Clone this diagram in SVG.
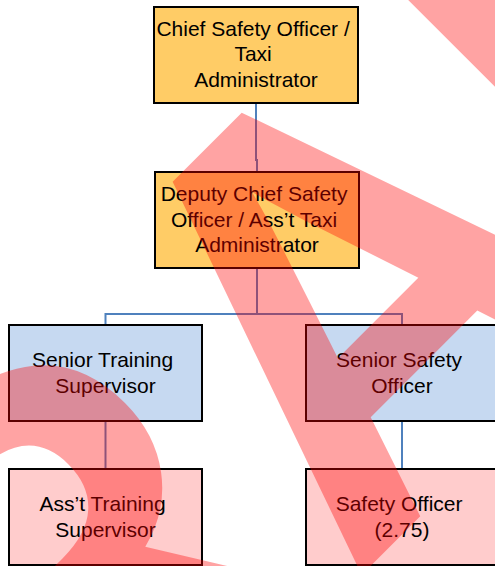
<svg xmlns="http://www.w3.org/2000/svg" width="495" height="566" viewBox="0 0 495 566">
  <style>
    .box { stroke: #000000; stroke-width: 2; }
    .exec { fill: #FFCC66; }
    .senior { fill: #C6D9F1; }
    .staff { fill: #FFCCCC; }
    .label { font-family: "Liberation Sans", Arial, sans-serif; font-size: 21px; fill: #000000; text-anchor: middle; }
    .link { fill: none; stroke: #4F81BD; stroke-width: 2; }
    .mark { font-family: "Liberation Sans", Arial, sans-serif; font-weight: bold; font-size: 575px; fill: #FF0000; fill-opacity: 0.36; }
  </style>

  <!-- reporting lines -->
  <g id="connectors">
    <path class="link" d="M256,103 V160 H257 V172"/>
    <path class="link" d="M257,268 V314"/>
    <path class="link" d="M105.5,325 V314 H402 V325"/>
    <path class="link" d="M105.5,421 V469"/>
    <path class="link" d="M402,421 V469"/>
  </g>

  <g id="chief-safety-officer">
    <rect class="box exec" x="154" y="7" width="204" height="96"/>
    <text class="label" x="256" y="35.5">
      <tspan x="256">Chief Safety Officer /</tspan>
      <tspan x="256" dy="25.5">Taxi</tspan>
      <tspan x="256" dy="25.5">Administrator</tspan>
    </text>
  </g>

  <g id="deputy-chief-safety-officer">
    <rect class="box exec" x="155" y="172" width="204" height="96"/>
    <text class="label" x="257" y="201">
      <tspan x="257">Deputy Chief Safety</tspan>
      <tspan x="257" dy="25.5">Officer / Ass’t Taxi</tspan>
      <tspan x="257" dy="25.5">Administrator</tspan>
    </text>
  </g>

  <g id="senior-training-supervisor">
    <rect class="box senior" x="9" y="325" width="193" height="96"/>
    <text class="label" x="105.5" y="366.5">
      <tspan x="105.5">Senior Training</tspan>
      <tspan x="105.5" dy="26">Supervisor</tspan>
    </text>
  </g>

  <g id="senior-safety-officer">
    <rect class="box senior" x="306" y="325" width="193" height="96"/>
    <text class="label" x="402" y="366.5">
      <tspan x="402">Senior Safety</tspan>
      <tspan x="402" dy="26">Officer</tspan>
    </text>
  </g>

  <g id="asst-training-supervisor">
    <rect class="box staff" x="9" y="469" width="193" height="96"/>
    <text class="label" x="105.5" y="510.5">
      <tspan x="105.5">Ass’t Training</tspan>
      <tspan x="105.5" dy="26">Supervisor</tspan>
    </text>
  </g>

  <g id="safety-officer">
    <rect class="box staff" x="306" y="469" width="193" height="96"/>
    <text class="label" x="402" y="510.5">
      <tspan x="402">Safety Officer</tspan>
      <tspan x="402" dy="26">(2.75)</tspan>
    </text>
  </g>

  <!-- translucent diagonal stamp laid over the chart -->
  <g id="watermark">
    <text class="mark" transform="translate(498.3,438.3) rotate(-45) scale(1,1.0407)" x="-1038" y="0">DRAFT</text>
  </g>
</svg>
